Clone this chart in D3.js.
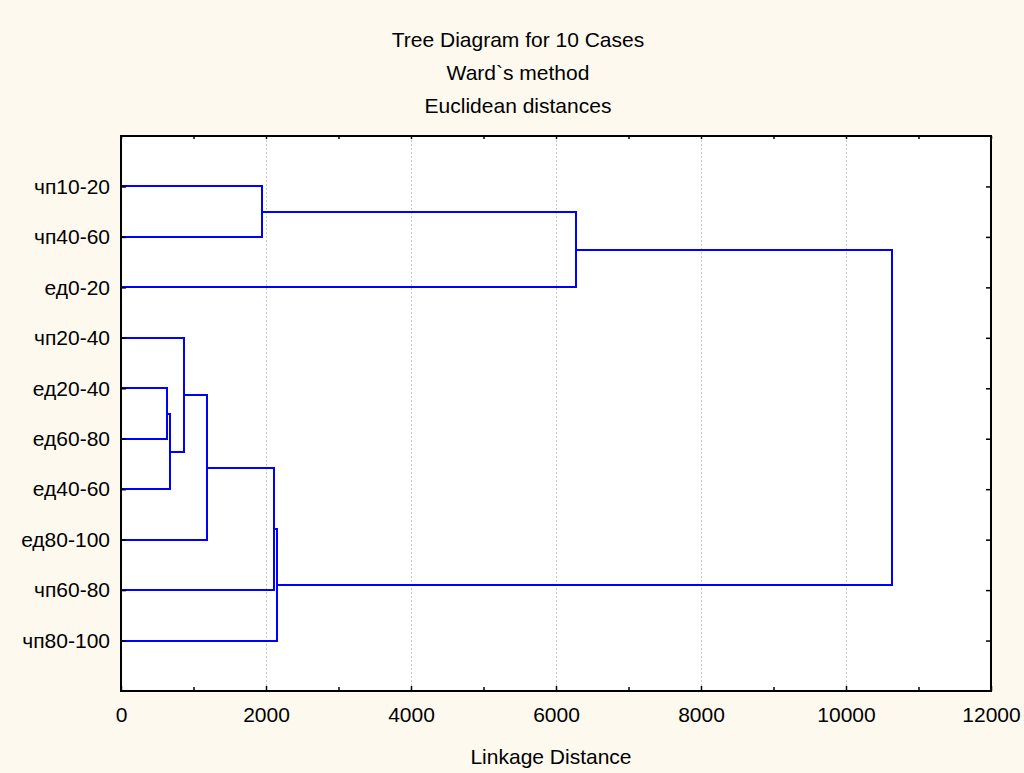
<!DOCTYPE html>
<meta charset="utf-8">
<script src="https://cdnjs.cloudflare.com/ajax/libs/d3/7.8.5/d3.min.js"></script>
<style>
    body {
        margin: 0;
        background: #fdf9ef;
        font-family: 'Liberation Sans', Arial, sans-serif;
    }
    .axis .domain {
        display: none;
    }
    .axis text {
        font-family: 'Liberation Sans', Arial, sans-serif;
        font-size: 21px;
        fill: #000;
    }
</style>
<svg width="1024" height="773"></svg>
<script>
    // leaves in display order, top to bottom
    var leaves = ["чп10-20", "чп40-60", "ед0-20", "чп20-40", "ед20-40",
        "ед60-80", "ед40-60", "ед80-100", "чп60-80", "чп80-100"];

    // merges: [left node, right node, linkage distance]
    // nodes 0..9 are leaves, 10.. are the merges below in order
    var merges = [
        [4, 5, 640],
        [10, 6, 680],
        [3, 11, 865],
        [12, 7, 1185],
        [13, 8, 2110],
        [14, 9, 2145],
        [0, 1, 1940],
        [16, 2, 6275],
        [17, 15, 10640]
    ];

    var xTicks = [0, 2000, 4000, 6000, 8000, 10000, 12000];
    var minorTicks = [1000, 3000, 5000, 7000, 9000, 11000];
    var titleLines = ["Tree Diagram for 10 Cases", "Ward`s method", "Euclidean distances"];

    var svg = d3.select("svg"),
        margin = {top: 136, right: 33, bottom: 82, left: 121},
        width = +svg.attr("width") - margin.left - margin.right,
        height = +svg.attr("height") - margin.top - margin.bottom;

    var x = d3.scaleLinear().domain([0, 12000]).range([0, width]);
    var y = d3.scaleLinear().domain([0, leaves.length + 1]).range([0, height]);

    var g = svg.append("g").attr("transform", "translate(" + margin.left + "," + margin.top + ")");

    g.append("rect")
        .attr("width", width)
        .attr("height", height)
        .attr("fill", "#fff");

    // dotted grid
    g.append("g").selectAll("line")
        .data(xTicks.slice(1, -1))
        .enter().append("line")
        .attr("x1", function(d) { return Math.round(x(d)) + 0.5; })
        .attr("x2", function(d) { return Math.round(x(d)) + 0.5; })
        .attr("y1", 0)
        .attr("y2", height)
        .attr("stroke", "#c8c8c8")
        .attr("stroke-width", 1)
        .attr("stroke-dasharray", "2,2");

    // node positions
    var nodeX = [], nodeY = [];
    leaves.forEach(function(d, i) {
        nodeX.push(0);
        nodeY.push(Math.round(y(i + 1)));
    });
    merges.forEach(function(m) {
        nodeX.push(Math.round(x(m[2])));
        nodeY.push(Math.round((nodeY[m[0]] + nodeY[m[1]]) / 2));
    });

    var segs = [];
    merges.forEach(function(m) {
        var mx = Math.round(x(m[2]));
        segs.push([nodeX[m[0]], nodeY[m[0]], mx, nodeY[m[0]]]);
        segs.push([nodeX[m[1]], nodeY[m[1]], mx, nodeY[m[1]]]);
        segs.push([mx, nodeY[m[0]], mx, nodeY[m[1]]]);
    });

    g.append("path")
        .attr("fill", "none")
        .attr("stroke", "#0000ff")
        .attr("stroke-width", 2)
        .attr("stroke-linecap", "square")
        .attr("d", segs.map(function(s) {
            return "M" + s[0] + "," + s[1] + "L" + s[2] + "," + s[3];
        }).join(""));

    // axes
    g.append("g")
        .attr("class", "axis")
        .attr("transform", "translate(0," + height + ")")
        .call(d3.axisBottom(x).tickValues(xTicks).tickSize(-5).tickPadding(16).tickFormat(d3.format("d")));

    g.append("g")
        .attr("class", "axis")
        .attr("transform", "translate(0," + height + ")")
        .call(d3.axisBottom(x).tickValues(minorTicks).tickSize(-4).tickFormat(""));

    g.append("g")
        .attr("class", "axis")
        .call(d3.axisTop(x).tickValues(minorTicks.concat(xTicks)).tickSize(-3).tickFormat(""));

    var yAxis = d3.axisLeft(y)
        .tickValues(d3.range(1, leaves.length + 1))
        .tickSize(-5)
        .tickPadding(11)
        .tickFormat(function(d) { return leaves[d - 1]; });

    g.append("g")
        .attr("class", "axis")
        .call(yAxis);

    g.append("g")
        .attr("class", "axis")
        .attr("transform", "translate(" + width + ",0)")
        .call(d3.axisRight(y).tickValues(d3.range(1, leaves.length + 1)).tickSize(-5).tickFormat(""));

    g.selectAll(".axis .tick line")
        .attr("stroke", "#000")
        .attr("stroke-width", 1.5);

    // frame
    g.append("rect")
        .attr("width", width)
        .attr("height", height)
        .attr("fill", "none")
        .attr("stroke", "#000")
        .attr("stroke-width", 2);

    // titles
    svg.append("g")
        .selectAll("text")
        .data(titleLines)
        .enter().append("text")
        .attr("x", 518)
        .attr("y", function(d, i) { return 47 + i * 33; })
        .attr("text-anchor", "middle")
        .attr("font-size", "21px")
        .text(function(d) { return d; });

    svg.append("text")
        .attr("x", margin.left + x(6000) - 5)
        .attr("y", 764)
        .attr("text-anchor", "middle")
        .attr("font-size", "21px")
        .text("Linkage Distance");
</script>
